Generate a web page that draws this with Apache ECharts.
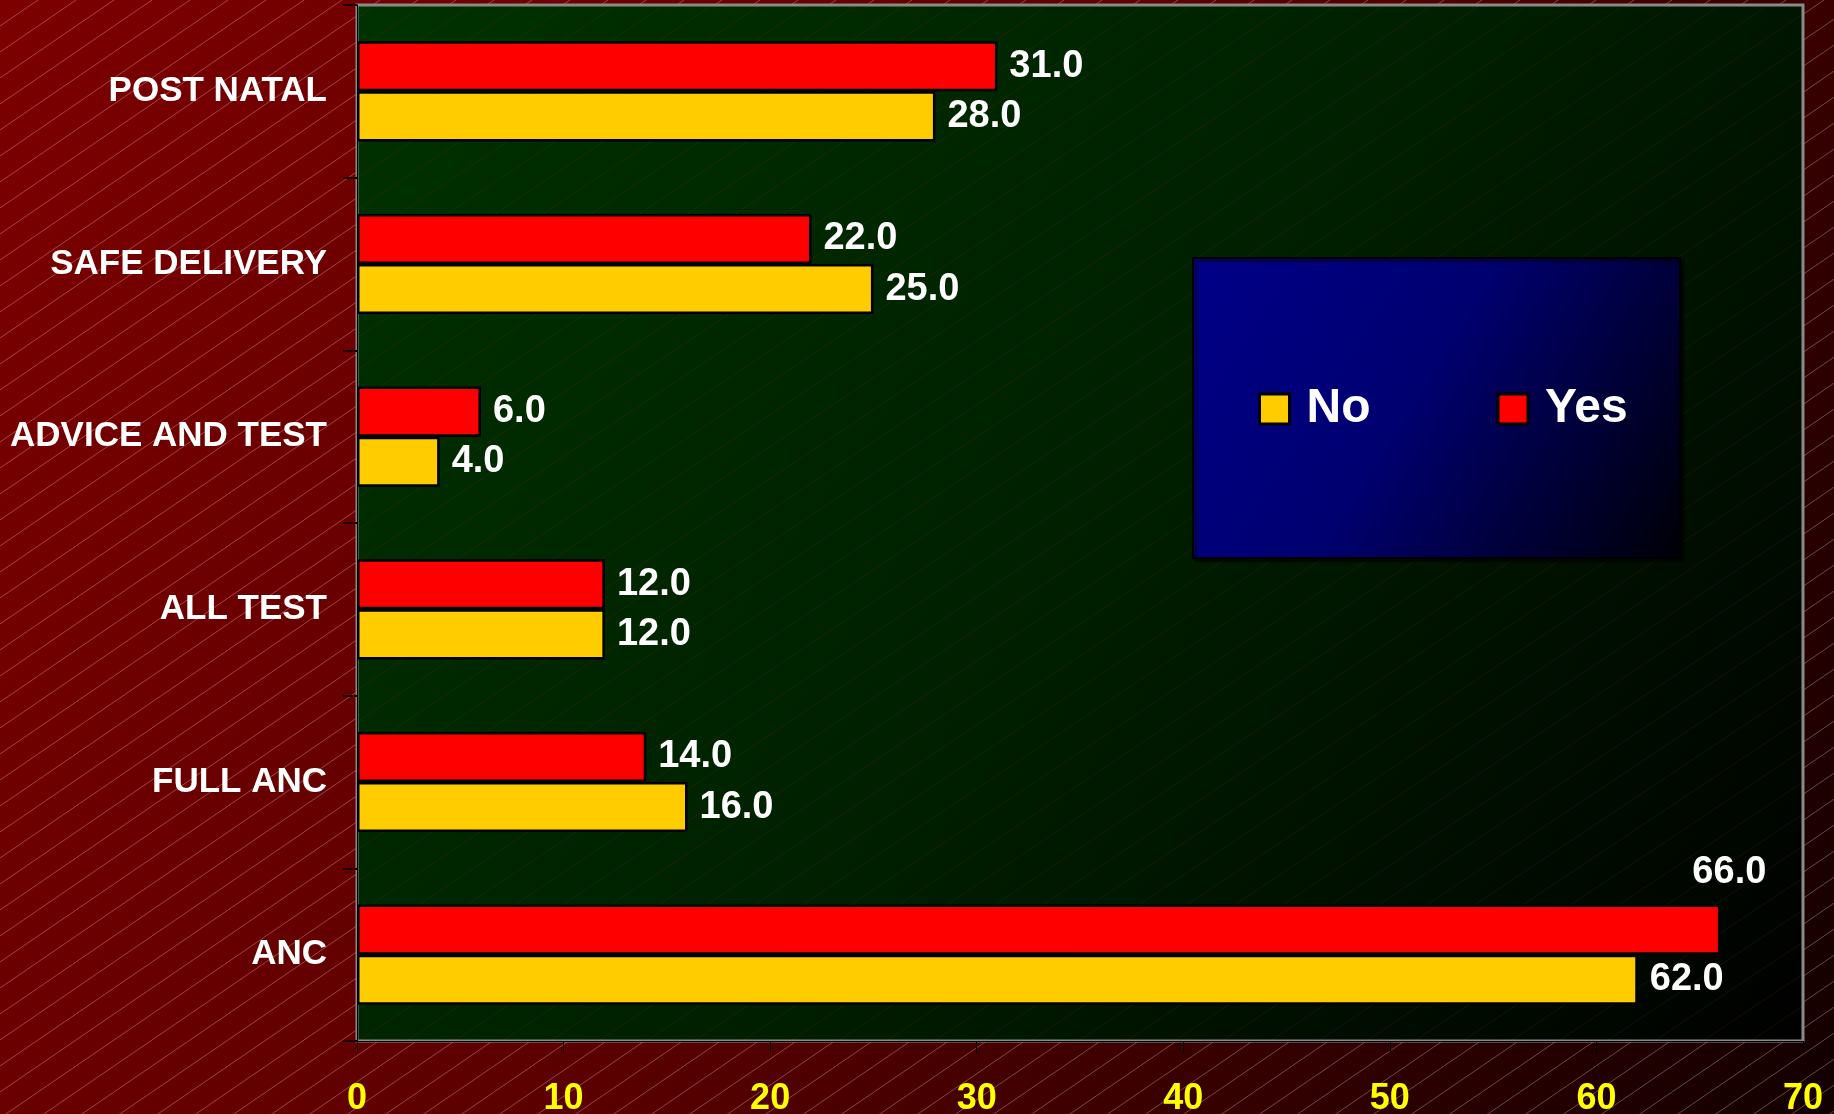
<!DOCTYPE html>
<html>
<head>
<meta charset="utf-8">
<script src="https://cdn.jsdelivr.net/npm/echarts@6/dist/echarts.min.js"></script>
<style>
html,body{margin:0;padding:0;background:#5a0000;}
#chart{width:1834px;height:1114px;}
</style>
</head>
<body>
<div id="chart"></div>
<script>
const categories = ['ANC', 'FULL ANC', 'ALL TEST', 'ADVICE AND TEST', 'SAFE DELIVERY', 'POST NATAL'];
const noValues = [62, 16, 12, 4, 25, 28];
const yesValues = [66, 14, 12, 6, 22, 31];
const seriesNames = ['No', 'Yes'];
const xTicks = [0, 10, 20, 30, 40, 50, 60, 70];

function makeHatch(w, h, color) {
  const c = document.createElement('canvas');
  c.width = w; c.height = h;
  const ctx = c.getContext('2d');
  ctx.strokeStyle = color;
  ctx.lineWidth = 1;
  ctx.beginPath();
  ctx.moveTo(-w, 2 * h);
  ctx.lineTo(2 * w, -h);
  ctx.stroke();
  return c;
}

const FONT = '"Liberation Sans", Arial, sans-serif';
const G = {left: 357, top: 5, right: 31, bottom: 73};
const W = 1834, H = 1114;
const gw = W - G.left - G.right, gh = H - G.top - G.bottom;

const labelFmt = p => Number(p.value).toFixed(1);
const labelStyle = {show: true, position: 'right', distance: 12, color: '#fff', fontSize: 38, fontWeight: 'bold',
  fontFamily: FONT, formatter: labelFmt};

const chart = echarts.init(document.getElementById('chart'), null, {renderer: 'canvas'});
const option = {
  backgroundColor: 'transparent',
  animation: false,
  graphic: [
    {type: 'rect', z: -20, shape: {x: 0, y: 0, width: W, height: H},
      style: {fill: new echarts.graphic.LinearGradient(0, 0, 1, 1, [
        {offset: 0, color: '#7c0000'}, {offset: 0.5, color: '#5a0000'}, {offset: 1, color: '#120000'}])}},
    {type: 'rect', z: -19, shape: {x: 0, y: 0, width: W, height: H},
      style: {fill: {image: makeHatch(38, 26, 'rgba(255,175,175,0.38)'), repeat: 'repeat'}}},
    {type: 'rect', z: -18, shape: {x: G.left, y: G.top, width: gw, height: gh},
      style: {fill: new echarts.graphic.LinearGradient(0, 0, 1, 1, [
        {offset: 0, color: '#003200'}, {offset: 0.5, color: '#002000'}, {offset: 1, color: '#000000'}])}},
    {type: 'rect', z: -17, shape: {x: G.left, y: G.top, width: gw, height: gh},
      style: {fill: {image: makeHatch(48, 32, 'rgba(90,40,0,0.3)'), repeat: 'repeat'}}},
    {type: 'rect', z: 3, shape: {x: 1193, y: 258, width: 487, height: 300},
      style: {fill: new echarts.graphic.LinearGradient(0, 0, 1, 1, [
        {offset: 0, color: '#000088'}, {offset: 0.45, color: '#000070'}, {offset: 1, color: '#000006'}]),
        stroke: '#000', lineWidth: 2, shadowColor: 'rgba(0,0,0,0.6)', shadowOffsetX: 3, shadowOffsetY: 3, shadowBlur: 2}}
  ],
  grid: {left: G.left, top: G.top, right: G.right, bottom: G.bottom, show: true,
    outerBoundsMode: 'none', containLabel: false,
    borderColor: '#8a8a8a', borderWidth: 3, backgroundColor: 'transparent'},
  legend: {
    data: seriesNames, left: 1258, top: 385, padding: 0, itemWidth: 30, itemHeight: 30, itemGap: 126,
    icon: 'rect',
    itemStyle: {borderColor: '#000', borderWidth: 3},
    textStyle: {color: '#fff', fontSize: 48, fontWeight: 'bold', fontFamily: FONT, padding: [0, 0, 0, 12]}
  },
  xAxis: {
    type: 'value', min: xTicks[0], max: xTicks[xTicks.length - 1], interval: 10,
    splitLine: {show: false},
    axisLine: {show: true, lineStyle: {color: '#000', width: 1}},
    axisTick: {show: true, length: 12, lineStyle: {color: '#000', width: 1}},
    axisLabel: {color: '#ffff00', fontSize: 36, fontWeight: 'bold', fontFamily: FONT, margin: 40}
  },
  yAxis: {
    type: 'category', data: categories,
    axisLine: {show: true, lineStyle: {color: '#000', width: 1}},
    axisTick: {show: true, length: 14, lineStyle: {color: '#1a0000', width: 2}},
    axisLabel: {color: '#fff', fontSize: 35, fontWeight: 'bold', fontFamily: FONT, margin: 30}
  },
  series: [
    {name: seriesNames[1], type: 'bar', barGap: '0%', barCategoryGap: '42%',
      data: yesValues.map((v, i) => i === 0 ? {value: v, label: {offset: [-40, -57]}} : v),
      itemStyle: {color: '#ff0000', borderColor: '#000', borderWidth: 2.5},
      label: labelStyle},
    {name: seriesNames[0], type: 'bar', data: noValues, barGap: '0%', barCategoryGap: '42%',
      itemStyle: {color: '#ffcc00', borderColor: '#000', borderWidth: 2.5},
      label: labelStyle}
  ]
};
chart.setOption(option);
</script>
</body>
</html>
